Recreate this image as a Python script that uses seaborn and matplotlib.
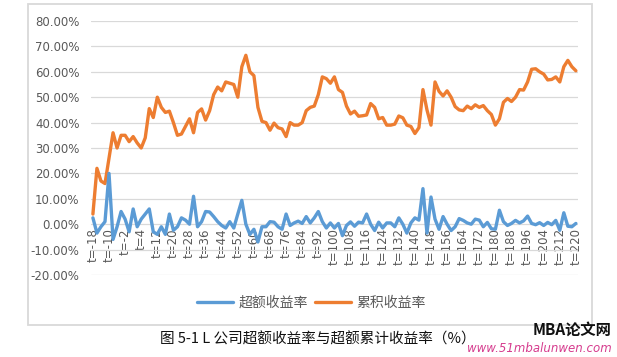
import matplotlib
matplotlib.use("Agg")
import matplotlib.pyplot as plt
import seaborn as sns
import pandas as pd
import numpy as np
from matplotlib.patches import Rectangle

# ---- data (values in %), sampled every 2 periods ----
excess = [2.5, -3.5, -1, 1, 20, -6, -1, 5, 2, -3,
          6, -1, 2, 4, 6, -3, -4, -1, -4, 4,
          -2.4, -1, 2.5, 1.6, 0, 11, -1, 1, 5, 4.8,
          3, 1, -0.5, -1.5, 1, -1.5, 4, 9.4, 0, -4,
          -2, -7, -1, -1, 1, 0.8, -1, -2, 4, -0.5,
          0.5, 1.2, 0.3, 3, 0.5, 2.5, 5, 1, -1.5, 0.5,
          -1.5, 0.3, -4.5, -0.5, 0.9, -0.8, 0.8, 0.5, 4, 0,
          -2.5, 0.8, -1.5, 0.5, 0.5, -1, 2.5, 0, -3.5, 0.5,
          2.5, 1.6, 14, -3.5, 10.7, 2, -2, 3, 0, -2.5,
          -1, 2.2, 1.5, 0.5, 0, 2, 1.6, -1, 0.7, -1.8,
          -2, 5.5, 1, -0.5, 0.3, 1.5, 0.5, 1.3, 3.2, 0.3,
          -0.2, 0.6, -0.5, 0.7, -0.2, 1.5, -2.4, 4.5, -0.8, -1,
          0.3]

cumulative = [4, 22, 17, 16, 26, 36, 30, 35, 35, 32.5,
              34.5, 32, 30, 34, 45.5, 42, 50, 46, 44, 44.5,
              40, 35, 35.5, 38.5, 41.5, 36, 44, 45.4, 41, 44.7,
              51, 54, 52.5, 56, 55.5, 55, 50, 62, 66.5, 60,
              58.5, 46, 40.5, 40, 37, 39.8, 38, 37.5, 34.5, 40,
              39, 39, 40, 44.7, 46, 46.5, 51, 58, 57.3, 55.5,
              58, 53, 51.9, 46.5, 43.4, 44.5, 42.5, 42.7, 43, 47.5,
              46, 41.5, 42, 39, 39, 39.4, 42.6, 41.9, 39, 38.5,
              35.7, 38, 53, 45, 39, 56, 52.3, 50.5, 52.5, 50,
              46.3, 45, 44.7, 46.5, 45.5, 47, 46, 46.7, 44.7, 43.2,
              39, 41.5, 48, 49.5, 48.3, 50, 53, 52.8, 56, 61,
              61.2, 60, 59.1, 56.8, 57, 58, 56, 62, 64.5, 62,
              60.4]

tick_labels = ["t=-18", "t=-10", "t=-2"] + [f"t={v}" for v in range(4, 221, 8)]
series_names = ["超额收益率", "累积收益率"]

period_idx = list(range(0, 241, 2))
df = pd.DataFrame({"idx": period_idx, "excess": excess, "cum": cumulative})

sns.set_theme(style="white")
plt.rcParams['font.family'] = ['Noto Sans CJK SC', 'DejaVu Sans']

BLUE = "#5B9BD5"
ORANGE = "#ED7D31"
GRAY = "#595959"
GRID = "#D9D9D9"

fig = plt.figure(figsize=(6.17, 3.57), dpi=100)
ax = fig.add_axes([90.7/617, 1-275/357, (577.5-90.7)/617, (275-21)/357])

sns.lineplot(data=df, x="idx", y="cum", ax=ax, color=ORANGE, lw=2.4, label=series_names[1])
sns.lineplot(data=df, x="idx", y="excess", ax=ax, color=BLUE, lw=2.4, label=series_names[0])

ax.spines['bottom'].set_position(('data', 0))
for s in ax.spines.values():
    s.set_visible(False)

ax.set_xlim(-1.1, 240.8)
ax.set_ylim(-20, 80)
ax.set_yticks(np.arange(-20, 81, 10))
ax.set_yticklabels([f"{v:.2f}%" for v in np.arange(-20, 81, 10)], fontsize=8.5, color=GRAY,
                   family=['DejaVu Sans'])
ax.yaxis.grid(True, color=GRID, lw=0.9)
ax.set_axisbelow(True)
ax.set_xticks(list(range(0, 241, 8)))
ax.set_xticklabels(tick_labels, rotation=90, fontsize=8.5, color=GRAY, family=['DejaVu Sans'])
ax.tick_params(axis='both', length=0)
ax.tick_params(axis='x', pad=3)
ax.tick_params(axis='y', pad=8)
ax.set_xlabel("")
ax.set_ylabel("")

ax.get_legend().remove()
h, l = ax.get_legend_handles_labels()
order = [1, 0]
leg = fig.legend([h[i] for i in order], [l[i] for i in order], loc='center',
                 bbox_to_anchor=(0.505, 1-303/357), ncol=2, frameon=False,
                 fontsize=10, handlelength=2.6, columnspacing=0.5, handletextpad=0.4)
for t in leg.get_texts():
    t.set_color(GRAY)

# outer chart border
fig.patches.append(Rectangle((27.7/617, 1-325/357), (592-27.7)/617, (325-4)/357,
                             transform=fig.transFigure, fill=False, ec=GRID, lw=1.3))

fig.text(318/617, 1-339/357, "图 5-1 L 公司超额收益率与超额累计收益率（%）",
         ha='center', va='center', fontsize=10.5, color="#111111")
fig.text(612/617, 1-330/357, "MBA论文网", ha='right', va='center', fontsize=11,
         fontweight='bold', style='italic', color="#111111")
fig.text(612/617, 1-349/357, "www.51mbalunwen.com", ha='right', va='center', fontsize=8.5,
         style='italic', color="#D63C8E", family=['DejaVu Sans'])

fig.savefig("out.png", dpi=100)
